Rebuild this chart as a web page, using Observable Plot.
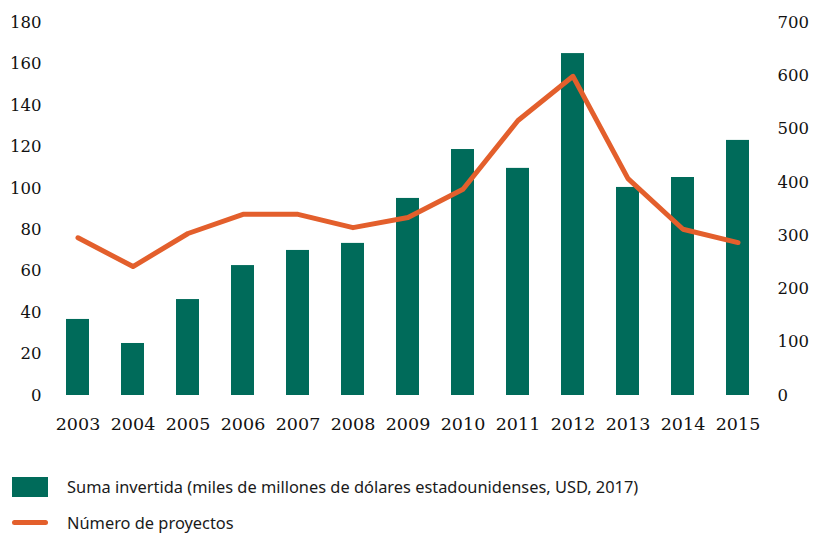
<!DOCTYPE html>
<html>
<head>
<meta charset="utf-8">
<script src="https://cdn.jsdelivr.net/npm/d3@7"></script>
<script src="https://cdn.jsdelivr.net/npm/@observablehq/plot@0.6"></script>
<style>
  html, body { margin: 0; padding: 0; background: #fff; }
  #chart svg { display: block; }
  .legend { font-family: "Noto Sans", sans-serif; font-size: 16.4px; color: #1a1a1a; position: relative; height: 89px; }
  .legend .row { position: absolute; left: 12px; display: flex; align-items: center; }
  .legend .sw { width: 36px; height: 20px; background: #006b5a; margin-right: 19px; }
  .legend .ln { width: 36px; height: 5px; border-radius: 3px; background: #e35f2c; margin-right: 19px; }
</style>
</head>
<body>
<div id="chart"></div>
<div class="legend">
  <div class="row" style="top:30px"><div class="sw"></div><span>Suma invertida (miles de millones de dólares estadounidenses, USD, 2017)</span></div>
  <div class="row" style="top:66px"><div class="ln"></div><span>Número de proyectos</span></div>
</div>
<script>
const years = ["2003","2004","2005","2006","2007","2008","2009","2010","2011","2012","2013","2014","2015"];
const inversion = [36.7, 25.1, 46.3, 62.7, 70.0, 73.4, 95.1, 118.7, 109.6, 165.0, 100.4, 105.2, 123.1];
const proyectos = [296, 242, 304, 340, 340, 315, 334, 387, 516, 599, 407, 312, 287];
const leftTicks = [0, 20, 40, 60, 80, 100, 120, 140, 160, 180];
const rightTicks = [0, 100, 200, 300, 400, 500, 600, 700];
const leftMax = 180, rightMax = 700;
const k = leftMax / rightMax;

const bars = years.map((y, i) => ({year: y, value: inversion[i]}));
const pts = years.map((y, i) => ({year: y, value: proyectos[i] * k}));

const serif = "'DejaVu Serif', serif";
const plot = Plot.plot({
  width: 816,
  height: 445,
  marginLeft: 50,
  marginRight: 52,
  marginTop: 22,
  marginBottom: 50,
  style: {fontFamily: serif, fontSize: "17px", color: "#111", background: "#fff"},
  x: {type: "band", domain: years, paddingInner: 0.584, paddingOuter: 0.254, label: null},
  y: {domain: [0, leftMax], label: null},
  marks: [
    Plot.barY(bars, {x: "year", y: "value", fill: "#006b5a"}),
    Plot.line(pts, {x: "year", y: "value", stroke: "#e35f2c", strokeWidth: 5, strokeLinejoin: "round", strokeLinecap: "round"}),
    Plot.axisY({anchor: "left", ticks: leftTicks, tickSize: 0, tickPadding: 9, fontSize: 16.5, fontFamily: serif, label: null}),
    Plot.axisY({anchor: "right", ticks: rightTicks.map(v => v * k), tickFormat: d => String(Math.round(d / k)), tickSize: 0, tickPadding: 13, fontSize: 16.5, fontFamily: serif, label: null}),
    Plot.axisX({anchor: "bottom", tickSize: 0, tickPadding: 22, fontSize: 17.5, fontFamily: serif, label: null})
  ]
});
document.getElementById("chart").appendChild(plot);
</script>
</body>
</html>
